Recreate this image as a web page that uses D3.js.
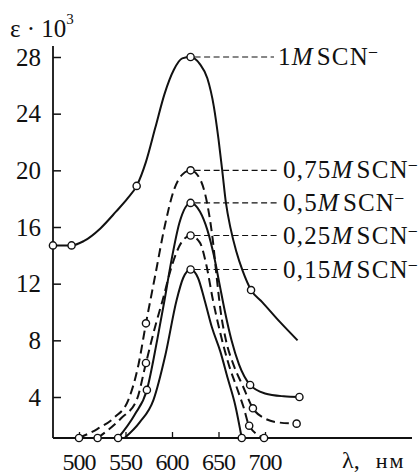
<!DOCTYPE html>
<html>
<head>
<meta charset="utf-8">
<script src="https://cdn.jsdelivr.net/npm/d3@7"></script>
<style>
  body { margin: 0; background: #fff; }
  text { font-family: "Liberation Serif", "Times New Roman", serif; fill: #111; }
</style>
</head>
<body>
<script>
// concentrations of SCN- and line style of every curve
const conc = ['1', '0,75', '0,5', '0,25', '0,15']
const dashed = [false, true, false, true, false]

// 1M
const nm1 = [472, 492, 505, 523, 540, 552, 562, 572, 582, 592, 602, 611, 620, 630, 638, 645, 650, 654, 658, 663, 669, 676, 685, 697, 716, 735]
const eps1 = [14.7, 14.7, 15.0, 15.9, 17.1, 18.0, 18.9, 20.6, 23.0, 25.4, 27.1, 27.9, 28.0, 27.5, 26.5, 24.5, 22.2, 20.0, 17.7, 15.9, 14.3, 12.9, 11.55, 10.7, 9.3, 8.0]
const mark1 = [472, 492, 562, 620, 685]
// 0,75M
const nm2 = [500, 520, 538, 553, 564, 572, 582, 592, 602, 611, 620, 630, 638, 644, 648, 652, 658, 666, 676, 687, 700, 716, 734]
const eps2 = [0, 0.9, 2.0, 3.7, 6.3, 9.2, 12.6, 16.0, 18.6, 19.7, 20.0, 19.4, 17.6, 15.0, 12.5, 10.2, 8.0, 6.3, 4.8, 2.9, 1.9, 1.5, 1.4]
const mark2 = [500, 572, 620, 687, 734]
// 0,5M
const nm3 = [542, 560, 573, 584, 592, 599, 608, 620, 630, 638, 645, 651, 657, 664, 672, 684, 700, 720, 737]
const eps3 = [0, 2.3, 4.5, 8.0, 10.85, 13.5, 16.3, 17.7, 17.1, 15.8, 14.0, 12.0, 10.0, 8.0, 6.3, 4.85, 4.25, 4.05, 4.0]
const mark3 = [542, 573, 620, 684, 737]
// 0,25M
const nm4 = [520, 545, 562, 572, 582, 590, 600, 610, 620, 630, 637, 644, 652, 661, 670, 677, 683, 699]
const eps4 = [0, 1.9, 3.7, 6.4, 9.0, 10.85, 13.3, 14.9, 15.4, 14.9, 13.3, 10.85, 8.5, 6.3, 4.6, 3.0, 1.2, 0]
const mark4 = [520, 572, 620, 683, 699]
// 0,15M
const nm5 = [549, 565, 580, 593, 605, 612, 620, 628, 635, 643, 652, 660, 668, 675]
const eps5 = [0, 1.5, 3.7, 7.0, 10.85, 12.4, 13.0, 12.4, 10.85, 8.9, 7.2, 5.3, 3.2, 0]
const mark5 = [620, 675]

const xTicks = [500, 550, 600, 650, 700]
const yTicks = [4, 8, 12, 16, 20, 24, 28]

const allNm = [nm1, nm2, nm3, nm4, nm5]
const allEps = [eps1, eps2, eps3, eps4, eps5]
const allMarks = [mark1, mark2, mark3, mark4, mark5]

const series = conc.map(function (c, i) {
  const pts = allNm[i].map(function (w, j) { return { nm: w, eps: allEps[i][j] } })
  return {
    conc: c,
    dashed: dashed[i],
    points: pts,
    marks: pts.filter(function (p) { return allMarks[i].indexOf(p.nm) >= 0 }),
    peak: pts.reduce(function (a, b) { return b.eps > a.eps ? b : a })
  }
})

const width = 420, height = 476

const svg = d3.select('body')
  .append('svg')
  .attr('width', width)
  .attr('height', height)

const x = d3.scaleLinear().domain([500, 700]).range([79, 265])
// the original has the zero line squeezed under the 4 tick
const y = d3.scaleLinear().domain([0, 4, 28]).range([438, 397, 57])

const axisX0 = 53, axisX1 = 412

// axes
svg.append('line')
  .attr('x1', axisX0).attr('x2', axisX0)
  .attr('y1', 46).attr('y2', y(0))
  .attr('stroke', '#111').attr('stroke-width', 1.8)
svg.append('line')
  .attr('x1', axisX0).attr('x2', axisX1)
  .attr('y1', y(0)).attr('y2', y(0))
  .attr('stroke', '#111').attr('stroke-width', 1.8)

const yAxis = svg.append('g')
  .attr('transform', 'translate(' + axisX0 + ',0)')
  .call(d3.axisRight(y).tickValues(yTicks).tickSize(8).tickFormat(''))
yAxis.select('.domain').remove()
yAxis.selectAll('line').attr('stroke', '#111').attr('stroke-width', 1.5)

svg.selectAll('.ylab')
  .data(yTicks)
  .enter()
  .append('text')
  .attr('class', 'ylab')
  .attr('x', 41)
  .attr('y', function (d) { return y(d) })
  .attr('dy', '0.35em')
  .attr('text-anchor', 'end')
  .attr('font-size', 25)
  .text(function (d) { return d })

const xAxis = svg.append('g')
  .attr('transform', 'translate(0,' + y(0) + ')')
  .call(d3.axisTop(x).tickValues(xTicks).tickSize(6).tickFormat(''))
xAxis.select('.domain').remove()
xAxis.selectAll('line').attr('stroke', '#111').attr('stroke-width', 1.3)

svg.selectAll('.xlab')
  .data(xTicks)
  .enter()
  .append('text')
  .attr('class', 'xlab')
  .attr('x', function (d) { return x(d) })
  .attr('y', 470)
  .attr('text-anchor', 'middle')
  .attr('font-size', 24)
  .attr('letter-spacing', -1)
  .text(function (d) { return d })

// axis titles
const xt = svg.append('text').attr('x', 342).attr('y', 468).attr('font-size', 24)
xt.append('tspan').text('λ,')
xt.append('tspan').attr('dx', 16).attr('font-size', 22).attr('letter-spacing', 2).text('нм')

const yt = svg.append('text').attr('x', 10).attr('y', 37).attr('font-size', 25)
yt.append('tspan').text('ε · 10')
yt.append('tspan').attr('font-size', 15).attr('dy', -13).text('3')

// leader lines to the labels
svg.selectAll('.leader')
  .data(series)
  .enter()
  .append('line')
  .attr('class', 'leader')
  .attr('x1', function (d) { return x(d.peak.nm) + 4 })
  .attr('x2', function (d, i) { return i === 0 ? 274 : 279 })
  .attr('y1', function (d) { return y(d.peak.eps) })
  .attr('y2', function (d) { return y(d.peak.eps) })
  .attr('stroke', '#111')
  .attr('stroke-width', 1.2)
  .attr('stroke-dasharray', '6,3.5')

const labels = svg.selectAll('.lab')
  .data(series)
  .enter()
  .append('text')
  .attr('class', 'lab')
  .attr('x', function (d, i) { return i === 0 ? 278 : 283 })
  .attr('y', function (d) { return y(d.peak.eps) + 8 })
  .attr('font-size', 25)
  .attr('letter-spacing', 1.2)
labels.append('tspan').text(function (d) { return d.conc })
labels.append('tspan').attr('font-style', 'italic').text('M')
labels.append('tspan').attr('dx', 3).text('SCN')
labels.append('tspan').attr('font-size', 16).attr('dy', -9).text('–')

// curves
const line = d3.line()
  .x(function (d) { return x(d.nm) })
  .y(function (d) { return y(d.eps) })
  .curve(d3.curveMonotoneX)

svg.selectAll('.curve')
  .data(series)
  .enter()
  .append('path')
  .attr('class', 'curve')
  .attr('d', function (d) { return line(d.points) })
  .attr('fill', 'none')
  .attr('stroke', '#111')
  .attr('stroke-width', 2)
  .attr('stroke-dasharray', function (d) { return d.dashed ? '9,5' : null })

// open circles
series.forEach(function (s) {
  svg.selectAll(null)
    .data(s.marks)
    .enter()
    .append('circle')
    .attr('cx', function (d) { return x(d.nm) })
    .attr('cy', function (d) { return y(d.eps) })
    .attr('r', 3.6)
    .attr('fill', '#fff')
    .attr('stroke', '#111')
    .attr('stroke-width', 1.4)
})
</script>
</body>
</html>
